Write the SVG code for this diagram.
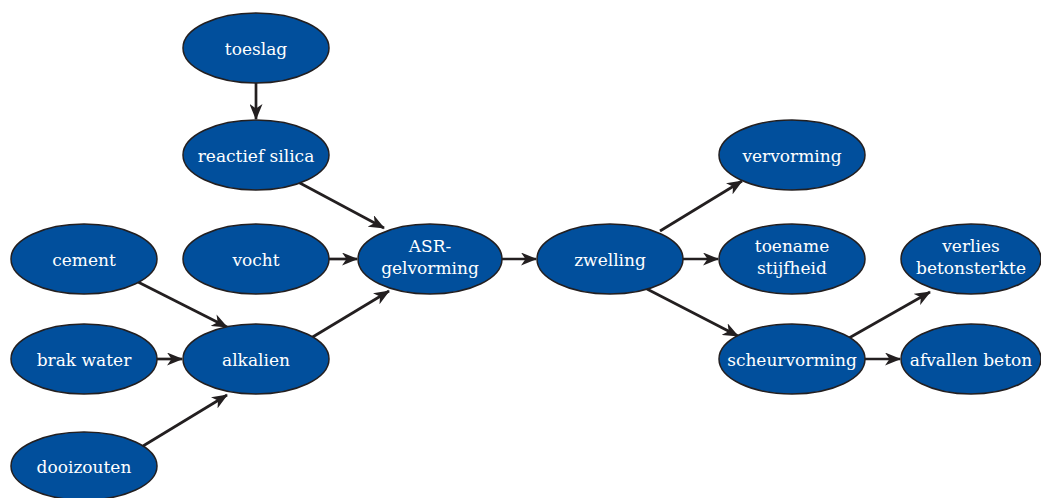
<svg xmlns="http://www.w3.org/2000/svg" width="1041" height="498" viewBox="0 0 1041 498">
  <style>
    .node ellipse { fill: #014f9c; stroke: #231f20; stroke-width: 1.5; }
    .node text { fill: #ffffff; font-family: "DejaVu Serif", "Liberation Serif", serif; font-size: 17px; text-anchor: middle; }
    .edge { stroke: #231f20; stroke-width: 2.7; fill: none; marker-end: url(#arrow); }
  </style>
  <defs>
    <marker id="arrow" viewBox="0 0 16 13" refX="15" refY="6.5" markerWidth="16" markerHeight="13" markerUnits="userSpaceOnUse" orient="auto">
      <path d="M0,0 L16,6.5 L0,13 L4.5,6.5 Z" fill="#231f20"/>
    </marker>
  </defs>
  <rect width="1041" height="498" fill="#ffffff"/>

  <g id="connectors">
    <line class="edge" x1="256" y1="83" x2="256" y2="119"/>
    <line class="edge" x1="298" y1="182" x2="384" y2="228"/>
    <line class="edge" x1="329" y1="259" x2="357" y2="259"/>
    <line class="edge" x1="311" y1="338" x2="389" y2="291"/>
    <line class="edge" x1="138" y1="282" x2="227" y2="327"/>
    <line class="edge" x1="157" y1="359" x2="182" y2="359"/>
    <line class="edge" x1="143" y1="446" x2="227" y2="395"/>
    <line class="edge" x1="502" y1="259" x2="536" y2="259"/>
    <line class="edge" x1="660" y1="231" x2="742" y2="181"/>
    <line class="edge" x1="683" y1="259" x2="718" y2="259"/>
    <line class="edge" x1="647" y1="289" x2="738" y2="336"/>
    <line class="edge" x1="849" y1="338" x2="930" y2="292"/>
    <line class="edge" x1="865" y1="359" x2="900" y2="359"/>
  </g>

  <g id="toeslag" class="node">
    <ellipse cx="256" cy="48" rx="73" ry="35"/>
    <text x="256" y="55">toeslag</text>
  </g>
  <g id="reactief-silica" class="node">
    <ellipse cx="256" cy="155" rx="73" ry="35"/>
    <text x="256" y="162">reactief silica</text>
  </g>
  <g id="vocht" class="node">
    <ellipse cx="256" cy="259" rx="73" ry="35"/>
    <text x="256" y="266">vocht</text>
  </g>
  <g id="cement" class="node">
    <ellipse cx="84" cy="259" rx="73" ry="35"/>
    <text x="84" y="266">cement</text>
  </g>
  <g id="brak-water" class="node">
    <ellipse cx="84" cy="359" rx="73" ry="35"/>
    <text x="84" y="366">brak water</text>
  </g>
  <g id="alkalien" class="node">
    <ellipse cx="256" cy="359" rx="73" ry="35"/>
    <text x="256" y="366">alkalien</text>
  </g>
  <g id="dooizouten" class="node">
    <ellipse cx="84" cy="466" rx="73" ry="34"/>
    <text x="84" y="473">dooizouten</text>
  </g>
  <g id="asr-gelvorming" class="node">
    <ellipse cx="430" cy="259" rx="72" ry="35"/>
    <text x="430" y="252">ASR-</text>
    <text x="430" y="274">gelvorming</text>
  </g>
  <g id="zwelling" class="node">
    <ellipse cx="610" cy="259" rx="73" ry="35"/>
    <text x="610" y="266">zwelling</text>
  </g>
  <g id="vervorming" class="node">
    <ellipse cx="792" cy="155" rx="73" ry="35"/>
    <text x="792" y="162">vervorming</text>
  </g>
  <g id="toename-stijfheid" class="node">
    <ellipse cx="792" cy="259" rx="73" ry="35"/>
    <text x="792" y="252">toename</text>
    <text x="792" y="274">stijfheid</text>
  </g>
  <g id="scheurvorming" class="node">
    <ellipse cx="792" cy="359" rx="73" ry="35"/>
    <text x="792" y="366">scheurvorming</text>
  </g>
  <g id="verlies-betonsterkte" class="node">
    <ellipse cx="971" cy="259" rx="70" ry="35"/>
    <text x="971" y="252">verlies</text>
    <text x="971" y="274">betonsterkte</text>
  </g>
  <g id="afvallen-beton" class="node">
    <ellipse cx="971" cy="359" rx="70" ry="35"/>
    <text x="971" y="366">afvallen beton</text>
  </g>
</svg>
